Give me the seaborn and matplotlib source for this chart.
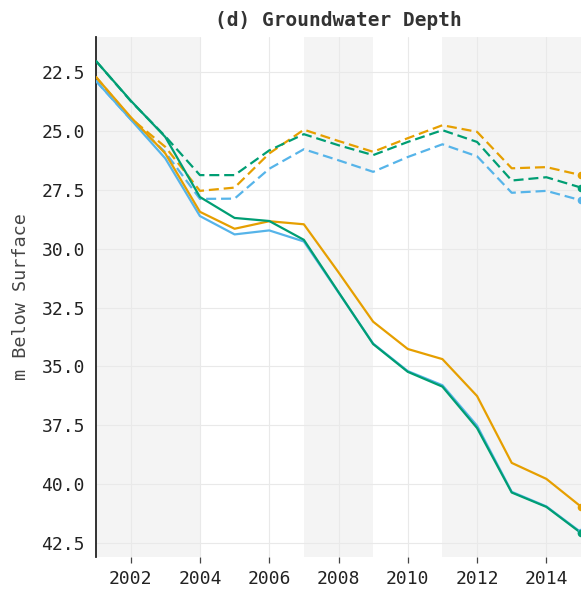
import numpy as np
import pandas as pd
import matplotlib
matplotlib.use("Agg")
import matplotlib.pyplot as plt
import seaborn as sns

years = list(range(2001, 2016))

green_solid = [22.02, 23.70, 25.25, 27.80, 28.69, 28.82, 29.62, 31.84, 34.05, 35.23, 35.86, 37.62, 40.36, 40.97, 42.08]
orange_solid = [22.70, 24.40, 25.95, 28.43, 29.15, 28.83, 28.96, 31.00, 33.10, 34.26, 34.69, 36.26, 39.10, 39.78, 40.96]
blue_solid = [22.87, 24.50, 26.16, 28.61, 29.39, 29.22, 29.69, 31.86, 34.03, 35.20, 35.80, 37.52, 40.33, 40.95, 42.05]

green_dashed = [22.02, 23.72, 25.22, 26.87, 26.87, 25.82, 25.13, 25.60, 26.02, 25.46, 24.96, 25.46, 27.10, 26.96, 27.40]
orange_dashed = [22.70, 24.45, 25.67, 27.54, 27.40, 25.95, 24.94, 25.42, 25.88, 25.30, 24.75, 25.03, 26.58, 26.53, 26.87]
blue_dashed = [22.87, 24.50, 25.90, 27.88, 27.87, 26.60, 25.77, 26.24, 26.73, 26.10, 25.56, 26.07, 27.62, 27.54, 27.94]

shade_periods = [(2001, 2004), (2007, 2009), (2011, 2015)]
y_ticks = [22.5, 25.0, 27.5, 30.0, 32.5, 35.0, 37.5, 40.0, 42.5]
x_ticks = [2002, 2004, 2006, 2008, 2010, 2012, 2014]

colors = {"blue": "#56B4E9", "orange": "#E69F00", "green": "#009E73"}

rows = []
for name, solid, dashed in [("blue", blue_solid, blue_dashed),
                            ("orange", orange_solid, orange_dashed),
                            ("green", green_solid, green_dashed)]:
    for y, s, d in zip(years, solid, dashed):
        rows.append({"year": y, "depth": s, "series": name, "kind": "solid"})
        rows.append({"year": y, "depth": d, "series": name, "kind": "dashed"})
df = pd.DataFrame(rows)

sns.set_style("white")
plt.rcParams["font.family"] = ["DejaVu Sans Mono", "DejaVu Sans"]

fig = plt.figure(figsize=(5.81, 5.89), dpi=100)
ax = fig.add_axes([96 / 581, 1 - 557 / 589, 485 / 581, (557 - 37) / 589])

for a, b in shade_periods:
    ax.axvspan(a, b, color="#f4f4f4", zorder=0, lw=0)

for kind, ls in [("dashed", (0, (4.5, 2.2))), ("solid", "-")]:
    for name in ["blue", "orange", "green"]:
        sub = df[(df.kind == kind) & (df.series == name)]
        sns.lineplot(data=sub, x="year", y="depth", ax=ax, color=colors[name],
                     linewidth=1.6, linestyle=ls, zorder=3, legend=False)
        ax.plot(sub["year"].iloc[-1:], sub["depth"].iloc[-1:], "o",
                color=colors[name], ms=4.5, zorder=4)

ax.set_xlim(2001, 2015)
ax.set_ylim(43.1, 21.0)
ax.set_xticks(x_ticks)
ax.set_yticks(y_ticks)
ax.set_yticklabels([f"{v:.1f}" for v in y_ticks])
ax.grid(True, color="#e9e9e9", lw=0.8, zorder=1)
ax.set_axisbelow(True)

for s in ["top", "right", "bottom"]:
    ax.spines[s].set_visible(False)
ax.spines["left"].set_color("#222222")
ax.spines["left"].set_linewidth(1.3)

ax.tick_params(axis="both", which="major", direction="out", length=4, width=0.9,
               color="#444444", labelsize=13, labelcolor="#222222", pad=4)
ax.tick_params(axis="x", pad=5, bottom=True)
ax.set_xlabel("")
ax.set_ylabel("m Below Surface", fontsize=13.3, color="#444444", labelpad=8)
ax.set_title("(d) Groundwater Depth", fontsize=14, fontweight="bold", color="#333333", pad=8)

fig.savefig("out.png", dpi=100)
